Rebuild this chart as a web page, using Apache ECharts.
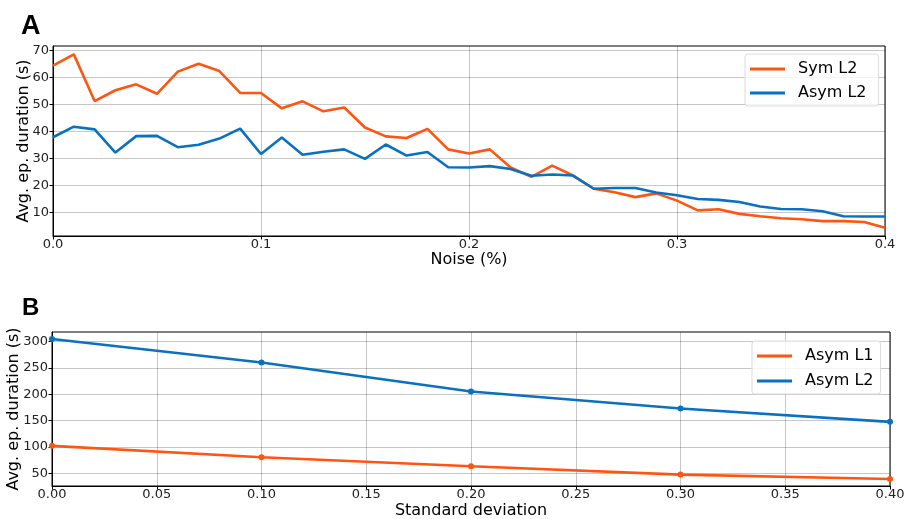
<!DOCTYPE html>
<html>
<head>
<meta charset="utf-8">
<script src="https://cdn.jsdelivr.net/npm/echarts@6/dist/echarts.min.js"></script>
<style>html,body{margin:0;padding:0;background:#fff;}#c{width:904px;height:519px;}</style>
</head>
<body>
<div id="c"></div>
<script>
// Panel A data
var noiseLevels = [0.00,0.01,0.02,0.03,0.04,0.05,0.06,0.07,0.08,0.09,0.10,0.11,0.12,0.13,0.14,0.15,0.16,0.17,0.18,0.19,0.20,0.21,0.22,0.23,0.24,0.25,0.26,0.27,0.28,0.29,0.30,0.31,0.32,0.33,0.34,0.35,0.36,0.37,0.38,0.39,0.40];
var symL2A  = [64.3,68.5,51.2,55.2,57.4,53.9,62.1,65.0,62.3,54.2,54.2,48.5,51.1,47.4,48.8,41.4,38.1,37.5,40.9,33.3,31.8,33.3,26.6,23.1,27.3,23.6,18.7,17.4,15.6,17.0,14.3,10.7,11.1,9.4,8.5,7.8,7.4,6.7,6.7,6.4,4.3];
var asymL2A = [37.8,41.7,40.7,32.1,38.2,38.3,34.1,35.0,37.3,41.0,31.6,37.7,31.3,32.4,33.3,29.8,35.1,31.0,32.3,26.7,26.6,27.1,26.0,23.5,24.0,23.6,18.7,19.0,19.0,17.3,16.3,14.9,14.6,13.8,12.1,11.2,11.1,10.4,8.5,8.4,8.4];
var yTicksA = [10,20,30,40,50,60,70];

// Panel B data
var stdDevs = [0.0,0.1,0.2,0.3,0.4];
var asymL1B = [102,80.5,63.3,47.5,39.3];
var asymL2B = [304.6,260,205,172.8,147.5];
var yTicksB = [50,100,150,200,250,300];

var ORANGE = '#fe5510';
var BLUE = '#0a71c1';
var FONT = 'DejaVu Sans';

function pairs(xs, ys){ return xs.map(function(x,i){ return [x, ys[i]]; }); }

var gridLine = {show:true, lineStyle:{color:'rgba(0,0,0,0.22)', width:1}};
var axisLineStyle = {show:true, lineStyle:{color:'#000', width:1}};
var tickStyle = {show:true, inside:false, length:3.5, lineStyle:{color:'#000', width:1}};

var chart = echarts.init(document.getElementById('c'), null, {renderer:'canvas'});
chart.setOption({
  animation:false,
  backgroundColor:'#fff',
  title:[
    {text:'A', left:16, top:8, textStyle:{fontFamily:'Liberation Sans', fontWeight:'bold', fontSize:27, color:'#000'}},
    {text:'B', left:17, top:291, textStyle:{fontFamily:'Liberation Sans', fontWeight:'bold', fontSize:24, color:'#000'}}
  ],
  grid:[
    {left:53, top:46, width:832, height:190, show:true, borderColor:'#000', borderWidth:1, backgroundColor:'transparent', containLabel:false, outerBoundsMode:'none'},
    {left:52, top:332, width:838, height:154, show:true, borderColor:'#000', borderWidth:1, backgroundColor:'transparent', containLabel:false, outerBoundsMode:'none'}
  ],
  legend:[
    {
      orient:'vertical', left:745, top:54, padding:[6,7,4,5], itemGap:6,
      itemWidth:35, itemHeight:3, icon:'rect',
      borderColor:'#dcdcdc', borderWidth:1, borderRadius:3, backgroundColor:'rgba(255,255,255,0.8)',
      textStyle:{fontFamily:FONT, fontSize:16, color:'#000', lineHeight:18, padding:[0,0,0,8]},
      data:['Sym L2','Asym L2 ']
    },
    {
      orient:'vertical', left:752, top:341, padding:[6,7,4,5], itemGap:7,
      itemWidth:35, itemHeight:3, icon:'rect',
      borderColor:'#dcdcdc', borderWidth:1, borderRadius:3, backgroundColor:'rgba(255,255,255,0.8)',
      textStyle:{fontFamily:FONT, fontSize:16, color:'#000', lineHeight:18, padding:[0,0,0,8]},
      data:['Asym L1','Asym L2']
    }
  ],
  xAxis:[
    {
      type:'value', gridIndex:0, min:0, max:0.4, interval:0.1,
      name:'Noise (%)', nameLocation:'middle', nameGap:16, nameMoveOverlap:false,
      nameTextStyle:{fontFamily:FONT, fontSize:16, color:'#000'},
      axisLine:axisLineStyle, axisTick:tickStyle, splitLine:gridLine,
      axisLabel:{fontFamily:FONT, fontSize:13, color:'#222', margin:2, hideOverlap:false,
        formatter:function(v){ return v.toFixed(1); }}
    },
    {
      type:'value', gridIndex:1, min:0, max:0.4, interval:0.05,
      name:'Standard deviation', nameLocation:'middle', nameGap:17, nameMoveOverlap:false,
      nameTextStyle:{fontFamily:FONT, fontSize:16, color:'#000'},
      axisLine:axisLineStyle, axisTick:tickStyle, splitLine:gridLine,
      axisLabel:{fontFamily:FONT, fontSize:13, color:'#222', margin:2, hideOverlap:false,
        formatter:function(v){ return v.toFixed(2); }}
    }
  ],
  yAxis:[
    {
      type:'value', gridIndex:0, min:1.2, max:71.6,
      name:'Avg. ep. duration (s)', nameLocation:'middle', nameGap:21, nameMoveOverlap:false,
      nameTextStyle:{fontFamily:FONT, fontSize:16, color:'#000'},
      axisLine:axisLineStyle,
      axisTick:Object.assign({customValues:yTicksA}, tickStyle),
      splitLine:gridLine,
      axisLabel:{customValues:yTicksA, fontFamily:FONT, fontSize:13, color:'#222', margin:4, hideOverlap:false}
    },
    {
      type:'value', gridIndex:1, min:25.9, max:317.8,
      name:'Avg. ep. duration (s)', nameLocation:'middle', nameGap:30, nameMoveOverlap:false,
      nameTextStyle:{fontFamily:FONT, fontSize:16, color:'#000'},
      axisLine:axisLineStyle,
      axisTick:Object.assign({customValues:yTicksB}, tickStyle),
      splitLine:gridLine,
      axisLabel:{customValues:yTicksB, fontFamily:FONT, fontSize:13, color:'#222', margin:4, hideOverlap:false}
    }
  ],
  series:[
    {name:'Sym L2', type:'line', xAxisIndex:0, yAxisIndex:0, data:pairs(noiseLevels, symL2A),
      showSymbol:false, symbol:'none', color:ORANGE, lineStyle:{color:ORANGE, width:2.6}},
    {name:'Asym L2 ', type:'line', xAxisIndex:0, yAxisIndex:0, data:pairs(noiseLevels, asymL2A),
      showSymbol:false, symbol:'none', color:BLUE, lineStyle:{color:BLUE, width:2.6}},
    {name:'Asym L1', type:'line', xAxisIndex:1, yAxisIndex:1, data:pairs(stdDevs, asymL1B),
      symbol:'circle', symbolSize:6, color:ORANGE, itemStyle:{color:ORANGE}, lineStyle:{color:ORANGE, width:2.6}},
    {name:'Asym L2', type:'line', xAxisIndex:1, yAxisIndex:1, data:pairs(stdDevs, asymL2B),
      symbol:'circle', symbolSize:6, color:BLUE, itemStyle:{color:BLUE}, lineStyle:{color:BLUE, width:2.6}}
  ]
});
</script>
</body>
</html>
